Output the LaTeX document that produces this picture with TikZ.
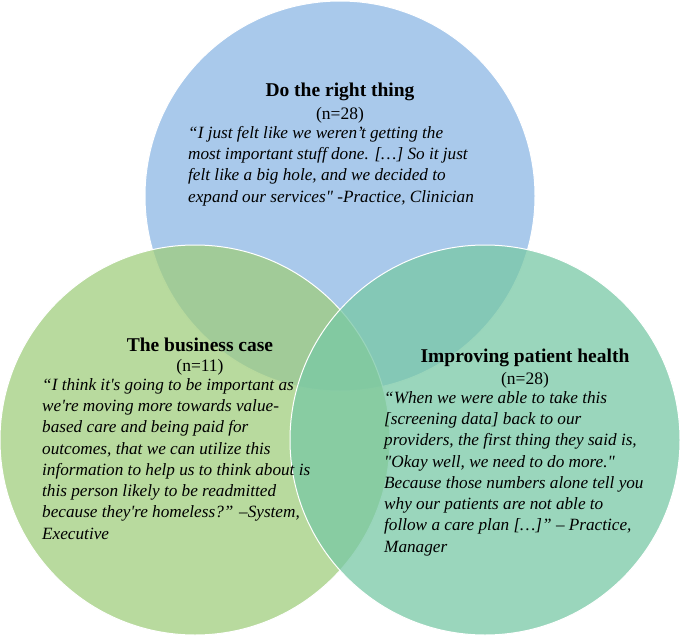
\documentclass[tikz,border=0pt]{standalone}
\usepackage{fontspec}
\setmainfont{Liberation Serif}
\tikzstyle{setbox}=[draw=white, line width=1pt, fill opacity=0.75]
\tikzstyle{title}=[font=\fontsize{19.5}{22}\selectfont\bfseries]
\tikzstyle{count}=[font=\fontsize{17.5}{20}\selectfont]
\tikzstyle{quote}=[font=\fontsize{17.2}{21.3}\selectfont\itshape, align=left, anchor=north west, inner sep=0pt]
\begin{document}
\begin{tikzpicture}[x=1pt, y=-1pt]
        \useasboundingbox (0,0) rectangle (680,637);
        \fill[setbox, fill={rgb,255:red,140;green,183;blue,228}] (340,196) circle (195);
        \fill[setbox, fill={rgb,255:red,160;green,205;blue,125}] (195,440) circle (195);
        \fill[setbox, fill={rgb,255:red,120;green,200;blue,165}] (485,440) circle (195);
        \node[title] (righttitle) at (340,92) {Do the right thing};
        \node[count] (rightn) at (340,115) {(n=28)};
        \node[quote] (rightquote) at (188,126) {“I just felt like we weren’t getting the\\most important stuff done. […] So it just\\felt like a big hole, and we decided to\\expand our services\textquotedbl{} -Practice, Clinician};
        \node[title] (casetitle) at (200,345) {The business case};
        \node[count] (casen) at (200,367) {(n=11)};
        \node[quote] (casequote) at (42,378) {“I think it\textquotesingle s going to be important as\\we\textquotesingle re moving more towards value-\\based care and being paid for\\outcomes, that we can utilize this\\information to help us to think about is\\this person likely to be readmitted\\because they\textquotesingle re homeless?” –System,\\Executive};
        \node[title] (healthtitle) at (525,358) {Improving patient health};
        \node[count] (healthn) at (525,380) {(n=28)};
        \node[quote] (healthquote) at (384,391) {“When we were able to take this\\{[}screening data] back to our\\providers, the first thing they said is,\\\textquotedbl Okay well, we need to do more.\textquotedbl\\Because those numbers alone tell you\\why our patients are not able to\\follow a care plan […]” – Practice,\\Manager};
    \end{tikzpicture}
\end{document}
